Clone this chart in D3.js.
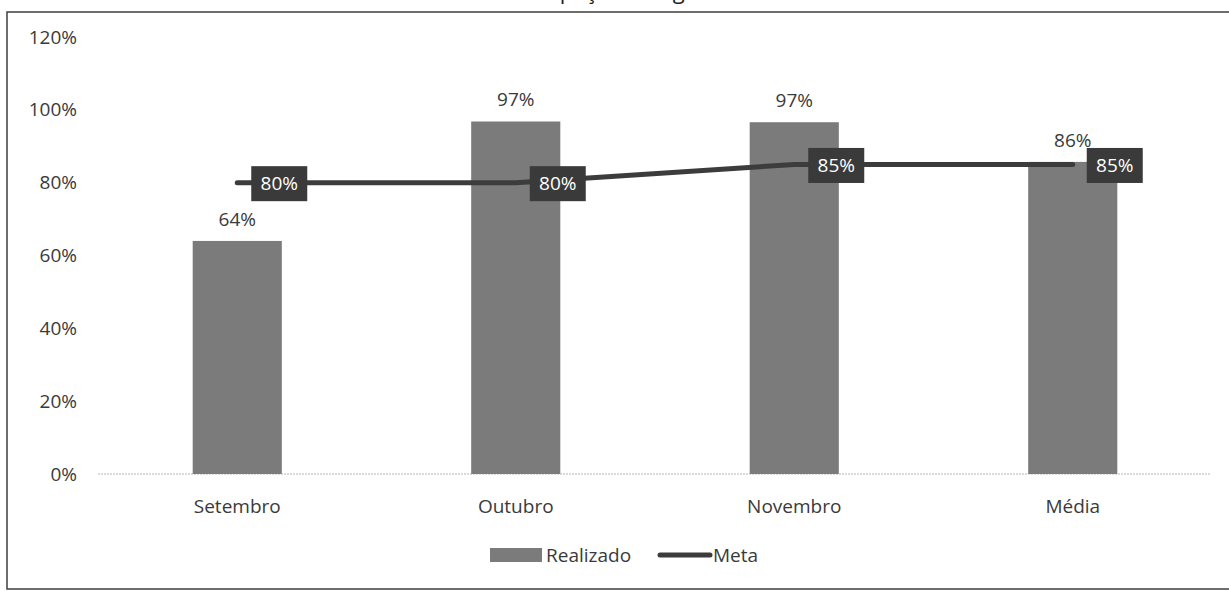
<!DOCTYPE html>
<html>
<head>
<meta charset="utf-8">
<script src="https://cdn.jsdelivr.net/npm/d3@7"></script>
<style>
  html, body { margin: 0; padding: 0; background: #fff; }
  svg { display: block; }
  text { font-family: "Open Sans", "Noto Sans", sans-serif; }
</style>
</head>
<body>
<svg id="chart" width="1229" height="591"></svg>
<script>
// ---- data ----
const title = "Antecipação de Agendamentos";
const categories = ["Setembro", "Outubro", "Novembro", "Média"];
const realizado = [0.64, 0.968, 0.966, 0.857];
const meta = [0.80, 0.80, 0.85, 0.85];
const yTicks = [0, 0.2, 0.4, 0.6, 0.8, 1.0, 1.2];
const seriesNames = ["Realizado", "Meta"];

// ---- setup ----
const svg = d3.select("#chart");
const fmt = d3.format(".0%");

const barColor = "#7b7b7b";
const lineColor = "#3c3c3c";
const boxColor = "#3a3a3a";
const textColor = "#3a3a3a";

// outer frame (scanned chart border)
svg.append("rect")
  .attr("x", 7).attr("y", 12)
  .attr("width", 1245).attr("height", 577)
  .attr("fill", "none").attr("stroke", "#4a4a4a").attr("stroke-width", 1.6);

// title: in the scan only its lowest part is visible above the frame
svg.append("text")
  .attr("x", 655).attr("y", -1)
  .attr("text-anchor", "middle")
  .attr("font-size", 22)
  .attr("fill", "#222")
  .text(title);

const x = d3.scaleBand()
  .domain(categories)
  .range([98, 1212])
  .paddingInner(0.68)
  .paddingOuter(0.34);

const y = d3.scaleLinear()
  .domain([0, 1.2])
  .range([474, 37]);

// y axis labels
const yAxis = d3.axisLeft(y)
  .tickValues(yTicks)
  .tickFormat(fmt)
  .tickSize(0)
  .tickPadding(0);
const gy = svg.append("g")
  .attr("transform", "translate(77,0)")
  .call(yAxis);
gy.select(".domain").remove();
gy.selectAll("text")
  .attr("font-size", 19)
  .attr("fill", textColor)
  .attr("dy", "0.32em")
  .attr("font-family", "'Open Sans', sans-serif");

// baseline
svg.append("line")
  .attr("x1", 98).attr("x2", 1210)
  .attr("y1", y(0)).attr("y2", y(0))
  .attr("stroke", "#b5b5b5").attr("stroke-width", 1.2)
  .attr("stroke-dasharray", "2,1");

// bars
svg.append("g").selectAll("rect")
  .data(categories)
  .join("rect")
  .attr("x", d => x(d))
  .attr("width", x.bandwidth())
  .attr("y", (d, i) => y(realizado[i]))
  .attr("height", (d, i) => y(0) - y(realizado[i]))
  .attr("fill", barColor);

// bar labels
svg.append("g").selectAll("text")
  .data(categories)
  .join("text")
  .attr("x", d => x(d) + x.bandwidth() / 2)
  .attr("y", (d, i) => y(realizado[i]) - 15)
  .attr("text-anchor", "middle")
  .attr("font-size", 19)
  .attr("fill", textColor)
  .text((d, i) => fmt(realizado[i]));

// x axis labels
const xAxis = d3.axisBottom(x).tickSize(0).tickPadding(0);
const gx = svg.append("g")
  .attr("transform", "translate(0,499)")
  .call(xAxis);
gx.select(".domain").remove();
gx.selectAll("text")
  .attr("font-size", 19)
  .attr("fill", textColor)
  .attr("dy", "0.71em")
  .attr("font-family", "'Open Sans', sans-serif");

// meta line
const cx = d => x(d) + x.bandwidth() / 2;
const line = d3.line()
  .x((d, i) => cx(categories[i]))
  .y(d => y(d));
svg.append("path")
  .datum(meta)
  .attr("d", line)
  .attr("fill", "none")
  .attr("stroke", lineColor)
  .attr("stroke-width", 5)
  .attr("stroke-linecap", "round")
  .attr("stroke-linejoin", "round");

// meta labels (dark boxes to the right of the points)
const lab = svg.append("g").selectAll("g")
  .data(categories)
  .join("g")
  .attr("transform", (d, i) => `translate(${cx(d) + 42},${y(meta[i]) + 1})`);
lab.append("rect")
  .attr("x", -28).attr("y", -17.5)
  .attr("width", 56).attr("height", 35)
  .attr("fill", boxColor);
lab.append("text")
  .attr("text-anchor", "middle")
  .attr("dy", "0.35em")
  .attr("font-size", 19)
  .attr("fill", "#ffffff")
  .text((d, i) => fmt(meta[i]));

// legend
const lg = svg.append("g");
lg.append("rect")
  .attr("x", 490).attr("y", 548)
  .attr("width", 52).attr("height", 14)
  .attr("fill", barColor);
lg.append("text")
  .attr("x", 546).attr("y", 555)
  .attr("dy", "0.35em")
  .attr("font-size", 19)
  .attr("fill", textColor)
  .text(seriesNames[0]);
lg.append("line")
  .attr("x1", 660).attr("x2", 710)
  .attr("y1", 555).attr("y2", 555)
  .attr("stroke", lineColor).attr("stroke-width", 5)
  .attr("stroke-linecap", "round");
lg.append("text")
  .attr("x", 713).attr("y", 555)
  .attr("dy", "0.35em")
  .attr("font-size", 19)
  .attr("fill", textColor)
  .text(seriesNames[1]);
</script>
</body>
</html>
